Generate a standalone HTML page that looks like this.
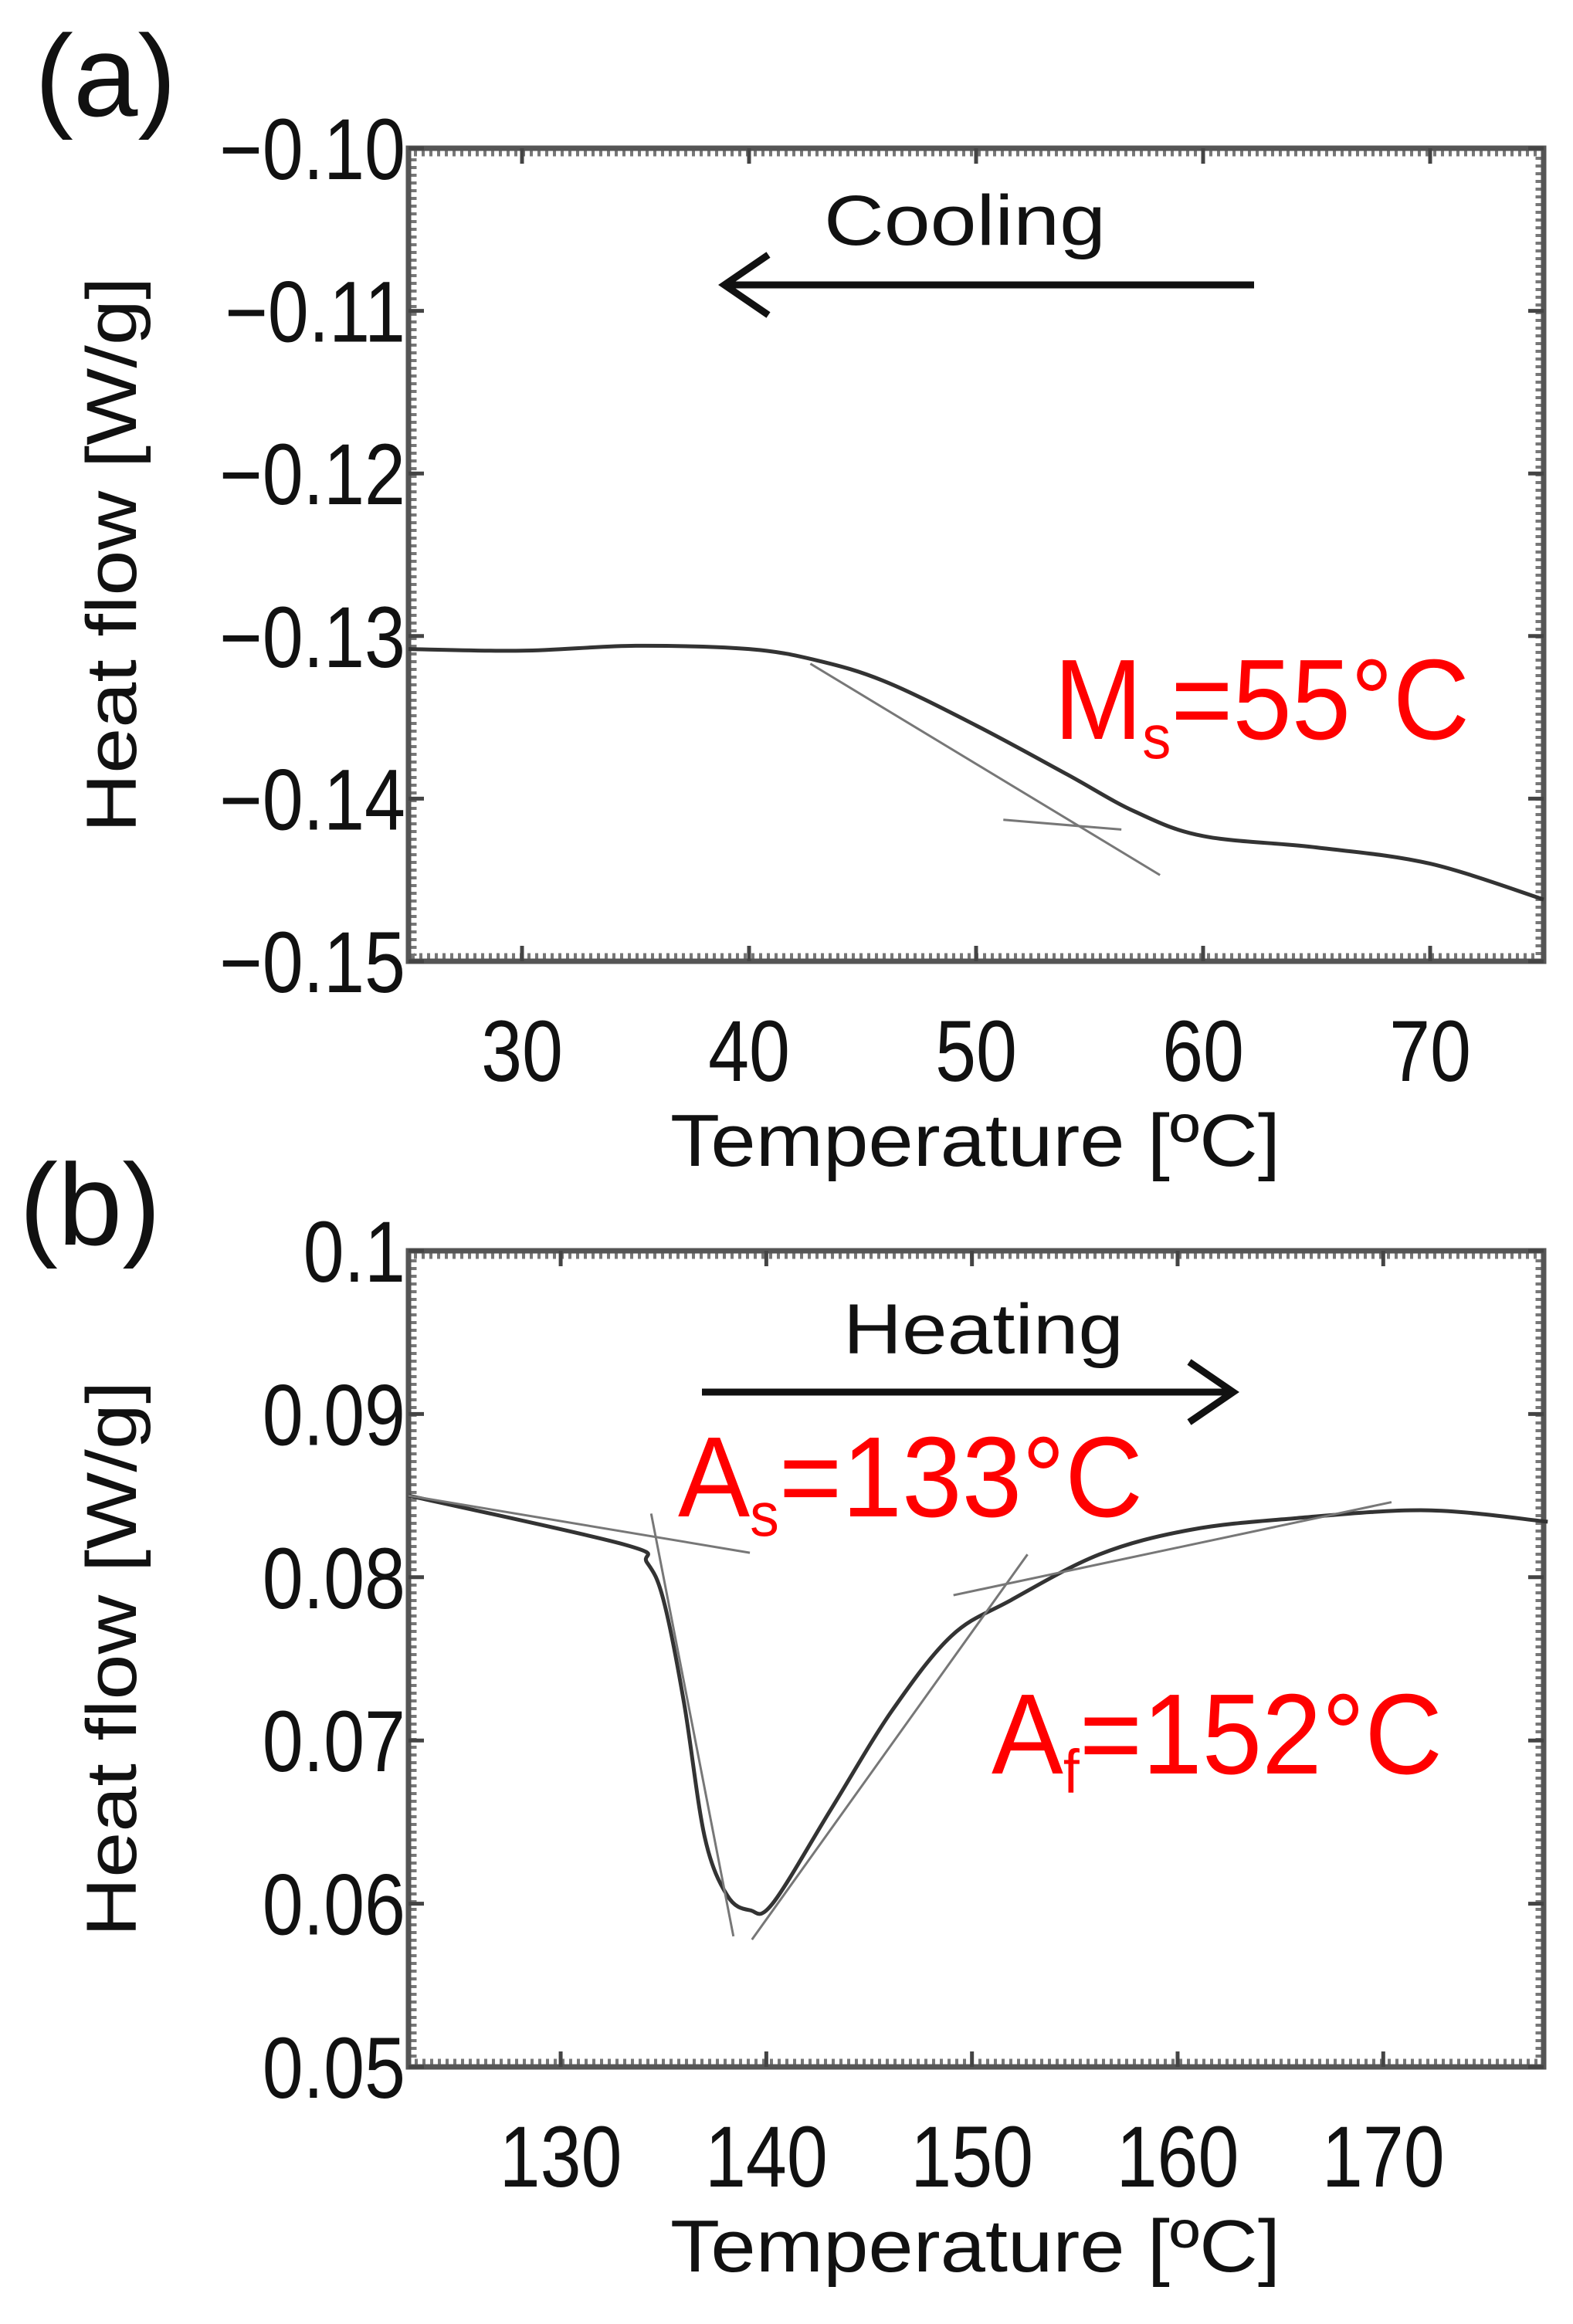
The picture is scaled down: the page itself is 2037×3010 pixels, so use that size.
<!DOCTYPE html>
<html><head><meta charset="utf-8"><style>
body{margin:0;background:#fff}
svg text{font-family:"Liberation Sans",sans-serif}
</style></head><body>
<svg id="s" width="2037" height="3005" viewBox="0 0 2037 3005" xmlns="http://www.w3.org/2000/svg"></svg>
<script>
const aXTicks=[30,40,50,60,70];
const aYTicks=[-0.10,-0.11,-0.12,-0.13,-0.14,-0.15];
const aYLabels=["\u22120.10","\u22120.11","\u22120.12","\u22120.13","\u22120.14","\u22120.15"];
const aCurveX=[25,30,35,40,43,46,50,54,57,60,65,70,75];
const aCurveY=[-0.1308,-0.1309,-0.1306,-0.1308,-0.1315,-0.1328,-0.1355,-0.1385,-0.1408,-0.1423,-0.1430,-0.1440,-0.1462];
const aTanX=[[42.7,58.1],[51.2,56.4]];
const aTanY=[[-0.1317,-0.1447],[-0.1413,-0.1419]];
const bXTicks=[130,140,150,160,170];
const bYTicks=[0.1,0.09,0.08,0.07,0.06,0.05];
const bYLabels=["0.1","0.09","0.08","0.07","0.06","0.05"];
const bCurveX=[122.6,133.1,134.2,135.0,136.0,137.0,138.1,139.2,140.3,143.2,146.1,149,151.9,156.2,160.6,165.6,172.1,178];
const bCurveY=[0.0850,0.0820,0.0809,0.0786,0.0723,0.0641,0.0605,0.0596,0.0600,0.0659,0.0718,0.0764,0.0786,0.0814,0.0829,0.0836,0.0841,0.0834];
const bTanX=[[122.6,139.2],[134.4,138.4],[139.3,152.7],[149.1,170.4]];
const bTanY=[[0.0850,0.0815],[0.0839,0.0580],[0.0578,0.0814],[0.0789,0.0846]];

const NS="http://www.w3.org/2000/svg";
const svg=document.getElementById('s');
function el(tag,attrs,parent,txt){const e=document.createElementNS(NS,tag);for(const k in attrs)e.setAttribute(k,attrs[k]);if(txt!==undefined)e.textContent=txt;(parent||svg).appendChild(e);return e;}
function smooth(pts){
  let d='M'+pts[0][0].toFixed(1)+' '+pts[0][1].toFixed(1);
  for(let i=0;i<pts.length-1;i++){
    const p0=pts[Math.max(0,i-1)],p1=pts[i],p2=pts[i+1],p3=pts[Math.min(pts.length-1,i+2)];
    const c1=[p1[0]+(p2[0]-p0[0])/6,p1[1]+(p2[1]-p0[1])/6];
    const c2=[p2[0]-(p3[0]-p1[0])/6,p2[1]-(p3[1]-p1[1])/6];
    d+=` C${c1[0].toFixed(1)} ${c1[1].toFixed(1)} ${c2[0].toFixed(1)} ${c2[1].toFixed(1)} ${p2[0].toFixed(1)} ${p2[1].toFixed(1)}`;
  }
  return d;
}
function panel(name,top,bottom,x0,x1,y0,y1,xt,yt,yl,cx,cy,tx,ty){
  const L=529,R=1999;
  const X=v=>L+(v-x0)/(x1-x0)*(R-L);
  const Y=v=>bottom-(v-y0)/(y1-y0)*(bottom-top);
  const g=el('g',{});
  
  
  const m1=el('rect',{x:L+7,y:top+7,width:R-L-14,height:bottom-top-14,fill:'none',stroke:'#777','stroke-width':7,'stroke-dasharray':'4 6'},g);
  
  
  const fr=el('rect',{x:L,y:top,width:R-L,height:bottom-top,fill:'none',stroke:'#555','stroke-width':7},g);
  
  
  xt.forEach(v=>{
    const x=X(v);
    const t1=el('line',{x1:x,y1:bottom,x2:x,y2:bottom-20,stroke:'#444','stroke-width':5},g);
    
    
    el('line',{x1:x,y1:top,x2:x,y2:top+20,stroke:'#444','stroke-width':5},g);
    const tl=el('text',{x:0,y:0,'font-size':112,'text-anchor':'middle',fill:'#111',transform:`translate(${x} ${bottom+155}) scale(0.85 1)`},g,String(v));
    
    
  });
  yt.forEach((v,i)=>{
    const y=Y(v);
    const t1=el('line',{x1:L,y1:y,x2:L+20,y2:y,stroke:'#444','stroke-width':5},g);
    
    
    el('line',{x1:R,y1:y,x2:R-20,y2:y,stroke:'#444','stroke-width':5},g);
    const tl=el('text',{x:0,y:0,'font-size':112,'text-anchor':'end',fill:'#111',transform:`translate(525 ${y+40}) scale(0.85 1)`},g,yl[i]);
    
    
  });
  const d=smooth(cx.map((v,i)=>[X(v),Y(cy[i])]));
  const c=el('path',{d:d,fill:'none',stroke:'#333','stroke-width':5,'stroke-linejoin':'round'},g);
  
  
  tx.forEach((p,i)=>{
    const tl=el('line',{x1:X(p[0]),y1:Y(ty[i][0]),x2:X(p[1]),y2:Y(ty[i][1]),stroke:'#777','stroke-width':3},g);
    
    
  });
  const xl=el('text',{x:1263,y:bottom+265,'font-size':96,'text-anchor':'middle',fill:'#111',textLength:790,lengthAdjust:'spacingAndGlyphs'},g,'Temperature [ºC]');
  
  
  const cyc=(top+bottom)/2;
  const yl2=el('text',{x:0,y:0,'font-size':92,'text-anchor':'middle',fill:'#111',textLength:720,lengthAdjust:'spacingAndGlyphs',transform:`translate(176 ${cyc}) rotate(-90)`},g,'Heat flow [W/g]');
  
  
  return g;
}
panel('panel-a-cooling',192,1245,25,75,-0.15,-0.10,aXTicks,aYTicks,aYLabels,aCurveX,aCurveY,aTanX,aTanY);
panel('panel-b-heating',1620,2677,122.6,177.8,0.05,0.10,bXTicks,bYTicks,bYLabels,bCurveX,bCurveY,bTanX,bTanY);
</script>
<script>
(function(){
const svg=document.getElementById('s');
svg.insertAdjacentHTML('beforeend',`
<text x="45" y="150" font-size="150" fill="#111">(a)</text>
<text x="25" y="1612" font-size="150" fill="#111">(b)</text>
<text x="1067" y="317" font-size="92" fill="#111" textLength="365" lengthAdjust="spacingAndGlyphs">Cooling</text>
<g stroke="#111" stroke-width="9" fill="none"><line x1="1624" y1="369" x2="940" y2="369"/><polyline points="995,330 938,369 995,408"/></g>
<text x="1092" y="1753" font-size="92" fill="#111" textLength="363" lengthAdjust="spacingAndGlyphs">Heating</text>
<g stroke="#111" stroke-width="9" fill="none"><line x1="909" y1="1803" x2="1593" y2="1803"/><polyline points="1540,1764 1597,1803 1540,1842"/></g>
<text x="1365" y="957" font-size="148" fill="#f00" textLength="538" lengthAdjust="spacingAndGlyphs">M<tspan font-size="80" dy="25">s</tspan><tspan dy="-25">=55°C</tspan></text>
<text x="878" y="1964" font-size="148" fill="#f00" textLength="602" lengthAdjust="spacingAndGlyphs">A<tspan font-size="80" dy="25">s</tspan><tspan dy="-25">=133°C</tspan></text>
<text x="1284" y="2297" font-size="148" fill="#f00" textLength="584" lengthAdjust="spacingAndGlyphs">A<tspan font-size="80" dy="25">f</tspan><tspan dy="-25">=152°C</tspan></text>
`);
})();
</script>
</body></html>
